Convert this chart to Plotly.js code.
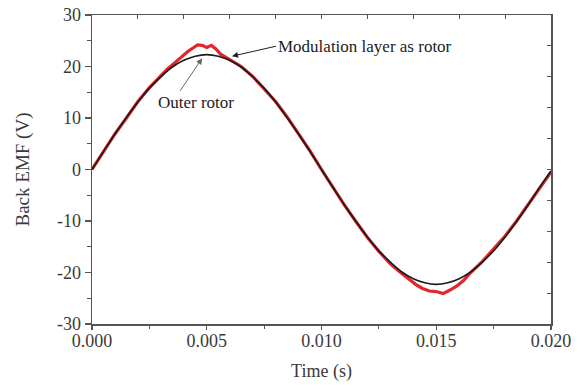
<!DOCTYPE html>
<html>
<head>
<meta charset="utf-8">
<script src="https://cdn.plot.ly/plotly-3.0.1.min.js"></script>
<style>html,body{margin:0;padding:0;background:#fff;}#chart{width:579px;height:387px;}</style>
</head>
<body>
<div id="chart"></div>
<script>
// Modulation layer as rotor (black)
const blackTime = [0,0.0005,0.001,0.0015,0.002,0.0025,0.003,0.0035,0.004,0.0045,0.005,0.0055,0.006,0.0065,0.007,0.0075,0.008,0.0085,0.009,0.0095,0.01,0.0105,0.011,0.0115,0.012,0.0125,0.013,0.0135,0.014,0.0145,0.015,0.0155,0.016,0.0165,0.017,0.0175,0.018,0.0185,0.019,0.0195,0.02];
const blackEMF = [0,3.5,6.9,10.1,13.1,15.8,18.0,19.9,21.2,22.0,22.3,22.0,21.2,19.9,18.0,15.8,13.1,10.1,6.9,3.5,0,-3.5,-6.9,-10.1,-13.1,-15.8,-18.0,-19.9,-21.2,-22.0,-22.3,-22.0,-21.2,-19.9,-18.0,-15.8,-13.1,-10.1,-6.9,-3.5,-0.3];
// Outer rotor (red)
const redTime = [0,0.0005,0.001,0.0015,0.002,0.0025,0.003,0.0033,0.0036,0.0039,0.0042,0.0044,0.0046,0.0048,0.005,0.0052,0.0054,0.0056,0.0058,0.006,0.0065,0.007,0.0075,0.008,0.0085,0.009,0.0095,0.01,0.0105,0.011,0.0115,0.012,0.0125,0.013,0.0135,0.0138,0.0141,0.0144,0.0147,0.015,0.0153,0.0156,0.0159,0.0162,0.0165,0.017,0.0175,0.018,0.0185,0.019,0.0195,0.02];
const redEMF = [0,3.4,6.9,10.0,13.2,15.9,18.3,19.6,20.7,21.9,23.0,23.6,24.2,24.1,23.7,24.1,23.4,22.4,21.9,21.3,20.0,18.1,15.7,13.2,10.2,6.9,3.6,0,-3.5,-6.9,-10.1,-13.2,-15.9,-18.3,-20.2,-21.3,-22.3,-23.1,-23.6,-23.7,-24.1,-23.4,-22.6,-21.5,-20.0,-17.9,-15.4,-12.9,-10.0,-6.8,-3.6,-0.5];
const xTicks = [0,0.005,0.01,0.015,0.02];
const xTickText = ["0.000","0.005","0.010","0.015","0.020"];
const yTicks = [-30,-20,-10,0,10,20,30];
const yTickText = ["-30","-20","-10","0","10","20","30"];
const labelMod = "Modulation layer as rotor";
const labelOuter = "Outer rotor";

const serif = "Liberation Serif, Times New Roman, serif";
const axisCol = "#555";
const textCol = "#3a3a3a";

const traces = [
  {x: redTime, y: redEMF, mode: "lines", line: {color: "#e3262b", width: 3.2}, hoverinfo: "skip", showlegend: false},
  {x: blackTime, y: blackEMF, mode: "lines", line: {color: "#1a1a1a", width: 1.6, shape: "spline"}, hoverinfo: "skip", showlegend: false},
  {x: [], y: [], xaxis: "x2", yaxis: "y2", mode: "lines", hoverinfo: "skip", showlegend: false}
];

const layout = {
  width: 579, height: 387,
  margin: {l: 92, r: 28, t: 15, b: 63},
  paper_bgcolor: "#fff", plot_bgcolor: "#fff",
  font: {family: serif, color: textCol, size: 17},
  showlegend: false,
  xaxis: {
    range: [0, 0.02], tickvals: xTicks, ticktext: xTickText, automargin: false,
    showgrid: false, zeroline: false, showline: true, linecolor: axisCol, linewidth: 1.5,
    ticks: "outside", ticklen: 4, tickcolor: axisCol, tickwidth: 1.2, ticklabelstandoff: -4,
    minor: {dtick: 0.0025, tick0: 0, ticks: "outside", ticklen: 3, tickcolor: axisCol, showgrid: false},
    tickfont: {family: serif, size: 18, color: textCol},
    title: {text: "Time (s)", font: {family: serif, size: 18, color: textCol}, standoff: 14}
  },
  xaxis2: {
    overlaying: "x", side: "top", range: [0, 0.02], dtick: 0.002, tick0: 0,
    showgrid: false, zeroline: false, showline: true, linecolor: axisCol, linewidth: 1.5,
    ticks: "inside", ticklen: 4, tickcolor: axisCol, showticklabels: false
  },
  yaxis: {
    range: [-30, 30], tickvals: yTicks, ticktext: yTickText, automargin: "left",
    showgrid: false, zeroline: false, showline: true, linecolor: axisCol, linewidth: 1.5,
    ticks: "outside", ticklen: 6, tickcolor: axisCol, tickwidth: 1.2,
    minor: {dtick: 5, tick0: 0, ticks: "outside", ticklen: 4, tickcolor: axisCol, showgrid: false},
    tickfont: {family: serif, size: 18, color: textCol},
    title: {text: "Back EMF (V)", font: {family: serif, size: 19, color: textCol}, standoff: 22}
  },
  yaxis2: {
    overlaying: "y", side: "right", range: [-30, 30], dtick: 6, tick0: 0,
    showgrid: false, zeroline: false, showline: true, linecolor: axisCol, linewidth: 1.5,
    ticks: "inside", ticklen: 4, tickcolor: axisCol, showticklabels: false
  },
  annotations: [
    {x: 0.0061, y: 22.0, xref: "x", yref: "y", text: labelMod, showarrow: true,
     ax: 44, ay: -10, xanchor: "left", yanchor: "middle",
     arrowhead: 2, arrowsize: 1.2, arrowwidth: 1, arrowcolor: "#222",
     font: {family: serif, size: 17, color: "#222"}},
    {x: 0.0048, y: 21.6, xref: "x", yref: "y", text: "", showarrow: true,
     ax: -23, ay: 34, arrowhead: 2, arrowsize: 1.2, arrowwidth: 1, arrowcolor: "#666"},
    {x: 0.00453, y: 13.0, xref: "x", yref: "y", text: labelOuter, showarrow: false,
     xanchor: "center", yanchor: "middle",
     font: {family: serif, size: 17, color: "#222"}}
  ]
};

Plotly.newPlot("chart", traces, layout, {staticPlot: true, displayModeBar: false});
</script>
</body>
</html>
